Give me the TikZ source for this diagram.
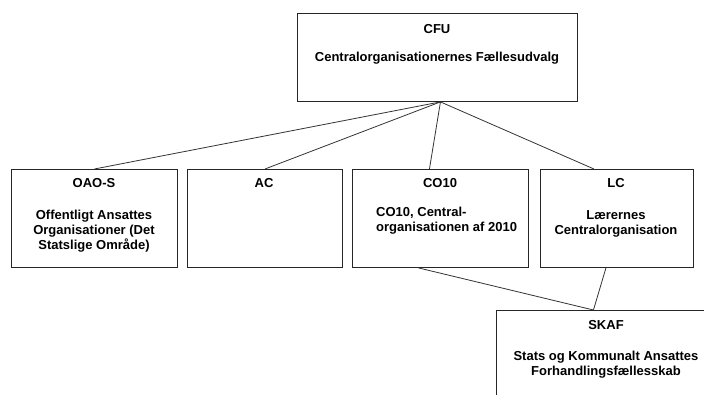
\documentclass[tikz,border=0pt]{standalone}
\usepackage{fontspec}
\setmainfont{Liberation Sans}
\begin{document}
\begin{tikzpicture}[x=1pt,y=-1pt,
 box/.style={draw=black!85, line width=0.9pt, anchor=north west, inner sep=0pt},
 ttl/.style={font=\bfseries\fontsize{13}{15}\selectfont, inner sep=0pt},
 desc/.style={font=\bfseries\fontsize{13}{15}\selectfont, align=center, inner sep=0pt},
 link/.style={draw=black!80, line width=0.8pt}]
\useasboundingbox (0,0) rectangle (704,394);
\clip (0,0) rectangle (704,394);
% boxes
\node[box, minimum width=280pt, minimum height=88pt] (cfu) at (297,13) {};
\node[box, minimum width=166pt, minimum height=98pt] (oao) at (11,169) {};
\node[box, minimum width=155pt, minimum height=98pt] (ac) at (187,169) {};
\node[box, minimum width=176pt, minimum height=98pt] (co) at (352,169) {};
\node[box, minimum width=153pt, minimum height=98pt] (lc) at (540,169) {};
\node[box, minimum width=220pt, minimum height=120pt] (skaf) at (496,310) {};
% texts
\node[ttl] (cfut) at (437,29) {CFU};
\node[desc] (cfud) at (437,58) {Centralorganisationernes Fællesudvalg};
\node[ttl] (oaot) at (94,183) {OAO-S};
\node[desc] (oaod) at (94,231) {Offentligt Ansattes\\Organisationer (Det\\Statslige Område)};
\node[ttl] (act) at (264,183) {AC};
\node[ttl] (cot) at (440,183) {CO10};
\node[desc, align=left, anchor=west] (cod) at (376,221) {CO10, Central-\\organisationen af 2010};
\node[ttl] (lct) at (616,183) {LC};
\node[desc] (lcd) at (616,224) {Lærernes\\Centralorganisation};
\node[ttl] (skaft) at (606,325) {SKAF};
\node[desc] (skafd) at (606,365) {Stats og Kommunalt Ansattes\\Forhandlingsfællesskab};
% connection points
\coordinate (cfuout) at ([xshift=3pt]cfu.south);
\coordinate (coin) at ([xshift=-11pt]co.north);
\coordinate (lcin) at ([xshift=-23pt]lc.north);
\coordinate (coout) at ([xshift=-22pt]co.south);
\coordinate (lcout) at ([xshift=-11pt]lc.south);
\coordinate (skafin) at ([xshift=-13pt]skaf.north);
% connectors
\draw[link] (cfuout) -- (oao.north);
\draw[link] (cfuout) -- (ac.north);
\draw[link] (cfuout) -- (coin);
\draw[link] (cfuout) -- (lcin);
\draw[link] (coout) -- (skafin);
\draw[link] (lcout) -- (skafin);
\end{tikzpicture}
\end{document}
